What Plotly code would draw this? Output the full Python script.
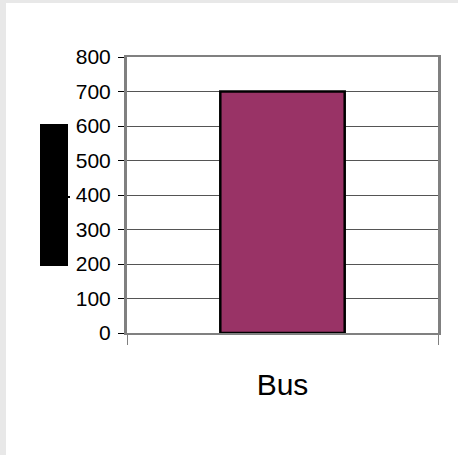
import plotly.graph_objects as go

categories = ["Bus"]
values = [700]
y_ticks = [0, 100, 200, 300, 400, 500, 600, 700, 800]

W, H = 458, 455
L, R, T, B = 127, 20, 57, 122
PW, PH = W - L - R, H - T - B

def px(x):
    return (x - L) / PW

def py(y):
    return (H - B - y) / PH

FONT = "Liberation Sans, Arial"

fig = go.Figure(go.Bar(
    x=categories, y=values, width=0.4,
    marker=dict(color="#993366", line=dict(color="black", width=2.5)),
))

shapes = [
    # gray page bands (top and left)
    dict(type="rect", xref="paper", yref="paper", x0=px(0), x1=px(6), y0=py(H), y1=py(0),
         fillcolor="#e8e8e8", line=dict(width=0), layer="below"),
    dict(type="rect", xref="paper", yref="paper", x0=px(0), x1=px(W), y0=py(3), y1=py(0),
         fillcolor="#e8e8e8", line=dict(width=0), layer="below"),
    # redacted axis title block
    dict(type="rect", xref="paper", yref="paper", x0=px(40), x1=px(68), y0=py(266), y1=py(124),
         fillcolor="black", line=dict(width=0)),
    dict(type="line", xref="paper", yref="paper", x0=px(66), x1=px(70), y0=py(197), y1=py(197),
         line=dict(color="black", width=2)),
]

fig.update_layout(
    width=W, height=H,
    margin=dict(l=L, r=R, t=T, b=B, pad=0),
    paper_bgcolor="white", plot_bgcolor="white",
    showlegend=False,
    bargap=0.6,
    shapes=shapes,
    font=dict(family=FONT, color="black"),
)
fig.update_xaxes(
    type="category", range=[-0.5, 0.5],
    showline=True, linecolor="#808080", linewidth=2, mirror=True,
    ticks="outside", tickson="boundaries", ticklen=10, tickcolor="#808080", tickwidth=1,
    tickfont=dict(size=30, family=FONT, color="black"),
    ticklabelstandoff=24,
    showgrid=False,
)
fig.update_yaxes(
    range=[0, 800], tickvals=y_ticks,
    showline=True, linecolor="#808080", linewidth=3, mirror=True,
    ticks="outside", ticklen=6, tickcolor="black", tickwidth=1,
    tickfont=dict(size=21, family=FONT, color="black"),
    ticklabelstandoff=3,
    showgrid=True, gridcolor="#555555", gridwidth=1,
    zeroline=False,
)

fig.write_html(
    "out.html",
    config={"displayModeBar": False},
    post_script="document.body.style.margin='0';document.body.style.overflow='hidden';",
)
